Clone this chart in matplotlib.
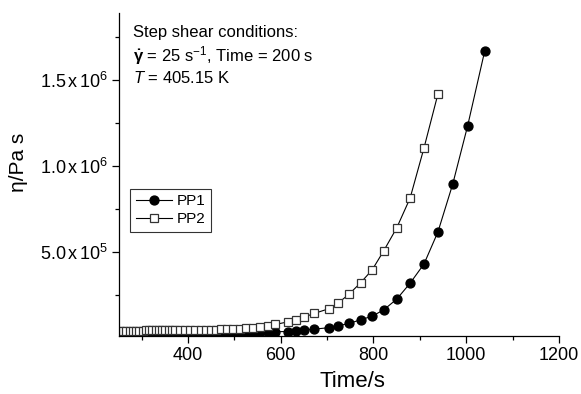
import numpy as np
import matplotlib
matplotlib.use('Agg')
import matplotlib.pyplot as plt
from matplotlib.ticker import FixedLocator, FuncFormatter

plt.rcParams['font.family'] = ['Liberation Sans', 'DejaVu Sans']
plt.rcParams['mathtext.fontset'] = 'custom'
plt.rcParams['mathtext.rm'] = 'Liberation Sans'
plt.rcParams['mathtext.it'] = 'Liberation Sans:italic'
plt.rcParams['mathtext.bf'] = 'Liberation Sans:bold'

# czasy pomiaru (s)
czas = [253, 260, 267, 274, 281, 288, 295, 302, 309, 316, 323, 330, 337, 344, 351, 358, 365, 372,
        383, 394, 405, 416, 427, 438, 449, 460, 471,
        484, 497, 512, 526, 540, 556, 572, 588, 615, 633, 651, 672, 703, 724, 748, 772, 797,
        822, 850, 879, 909, 939, 971, 1003, 1040]

# lepkosc PP1 (Pa s)
pp1 = [3.5e4, 3.5e4, 3.5e4, 3.5e4, 3.5e4, 3.5e4, 3.5e4, 3.5e4, 3.6e4, 3.6e4, 3.6e4, 3.6e4,
       3.6e4, 3.6e4, 3.6e4, 3.6e4, 3.7e4, 3.7e4,
       3.7e4, 3.7e4, 3.7e4, 3.7e4, 3.8e4, 3.8e4, 3.8e4, 3.8e4, 3.8e4,
       3.8e4, 3.8e4, 3.8e4, 3.8e4, 3.8e4, 3.8e4, 3.9e4, 3.9e4, 4.0e4, 4.4e4, 4.9e4, 5.4e4,
       6.2e4, 7.3e4, 8.8e4, 1.08e5, 1.29e5,
       1.66e5, 2.28e5, 3.21e5, 4.33e5, 6.19e5, 8.98e5, 1.235e6, 1.672e6]

# lepkosc PP2 (Pa s) - konczy sie na 939 s
pp2 = [4.4e4, 4.4e4, 4.4e4, 4.5e4, 4.5e4, 4.5e4, 4.5e4, 4.5e4, 4.6e4, 4.6e4, 4.6e4, 4.6e4,
       4.6e4, 4.7e4, 4.7e4, 4.7e4, 4.7e4, 4.7e4,
       4.8e4, 4.8e4, 4.8e4, 4.9e4, 4.9e4, 5.0e4, 5.0e4, 5.1e4, 5.2e4,
       5.3e4, 5.5e4, 5.7e4, 6.0e4, 6.3e4, 6.8e4, 7.4e4, 8.1e4, 9.6e4, 1.08e5, 1.25e5, 1.45e5,
       1.72e5, 2.06e5, 2.59e5, 3.23e5, 3.98e5,
       5.09e5, 6.42e5, 8.16e5, 1.108e6, 1.421e6]

y_major = [5e5, 1e6, 1.5e6]
y_minor = [2.5e5, 7.5e5, 1.25e6, 1.75e6]
x_major = [400, 600, 800, 1000, 1200]
x_minor = [300, 500, 700, 900, 1100]

fig = plt.figure(figsize=(5.81, 3.94), dpi=100)
ax = fig.add_axes([0.2048, 0.1472, 0.962 - 0.2048, 0.967 - 0.1472])

ax.plot(czas, pp1, '-o', color='black', lw=0.8, markersize=6.4,
        markerfacecolor='black', markeredgecolor='black', label='PP1')
ax.plot(czas[:len(pp2)], pp2, '-s', color='black', lw=0.8, markersize=5.2,
        markerfacecolor='white', markeredgecolor='#333333', markeredgewidth=0.9, label='PP2')

ax.set_xlim(251, 1200)
ax.set_ylim(1.4e4, 1.892e6)

ax.spines['top'].set_visible(False)
ax.spines['right'].set_visible(False)
for s in ['left', 'bottom']:
    ax.spines[s].set_linewidth(0.9)

ax.xaxis.set_major_locator(FixedLocator(x_major))
ax.xaxis.set_minor_locator(FixedLocator(x_minor))
ax.yaxis.set_major_locator(FixedLocator(y_major))
ax.yaxis.set_minor_locator(FixedLocator(y_minor))

def fmt_y(v, pos):
    e = int(np.floor(np.log10(v)))
    m = v / 10 ** e
    return r'$\mathregular{%.1f\,x\,10^{%d}}$' % (m, e)

ax.yaxis.set_major_formatter(FuncFormatter(fmt_y))
ax.tick_params(axis='both', which='major', direction='out', length=5, width=0.9, labelsize=13)
ax.tick_params(axis='both', which='minor', direction='out', length=3, width=0.9)
ax.tick_params(axis='x', which='major', pad=3)
ax.tick_params(axis='y', which='major', pad=3)

ax.set_xlabel('Time/s', fontsize=16)
ax.set_ylabel('η/Pa s', fontsize=15)
ax.xaxis.set_label_coords(0.531, -0.108)
ax.yaxis.set_label_coords(-0.207, 0.536)

ax.text(0.032, 0.927, 'Step shear conditions:', transform=ax.transAxes,
        fontsize=12, va='baseline')
ax.text(0.032, 0.849, r'$\mathbf{\dot{\gamma}}$ = 25 s$^{\mathregular{-1}}$, Time = 200 s',
        transform=ax.transAxes, fontsize=12, va='baseline')
ax.text(0.032, 0.784, r'$\mathit{T}$ = 405.15 K', transform=ax.transAxes,
        fontsize=12, va='baseline')

leg = ax.legend(loc='upper left', bbox_to_anchor=(0.026, 0.455), fontsize=11,
                frameon=True, fancybox=False, handlelength=2.4, handletextpad=0.3,
                borderpad=0.35, labelspacing=0.25, borderaxespad=0)
leg.get_frame().set_edgecolor('black')
leg.get_frame().set_linewidth(0.8)

fig.savefig('out.png', dpi=100)
